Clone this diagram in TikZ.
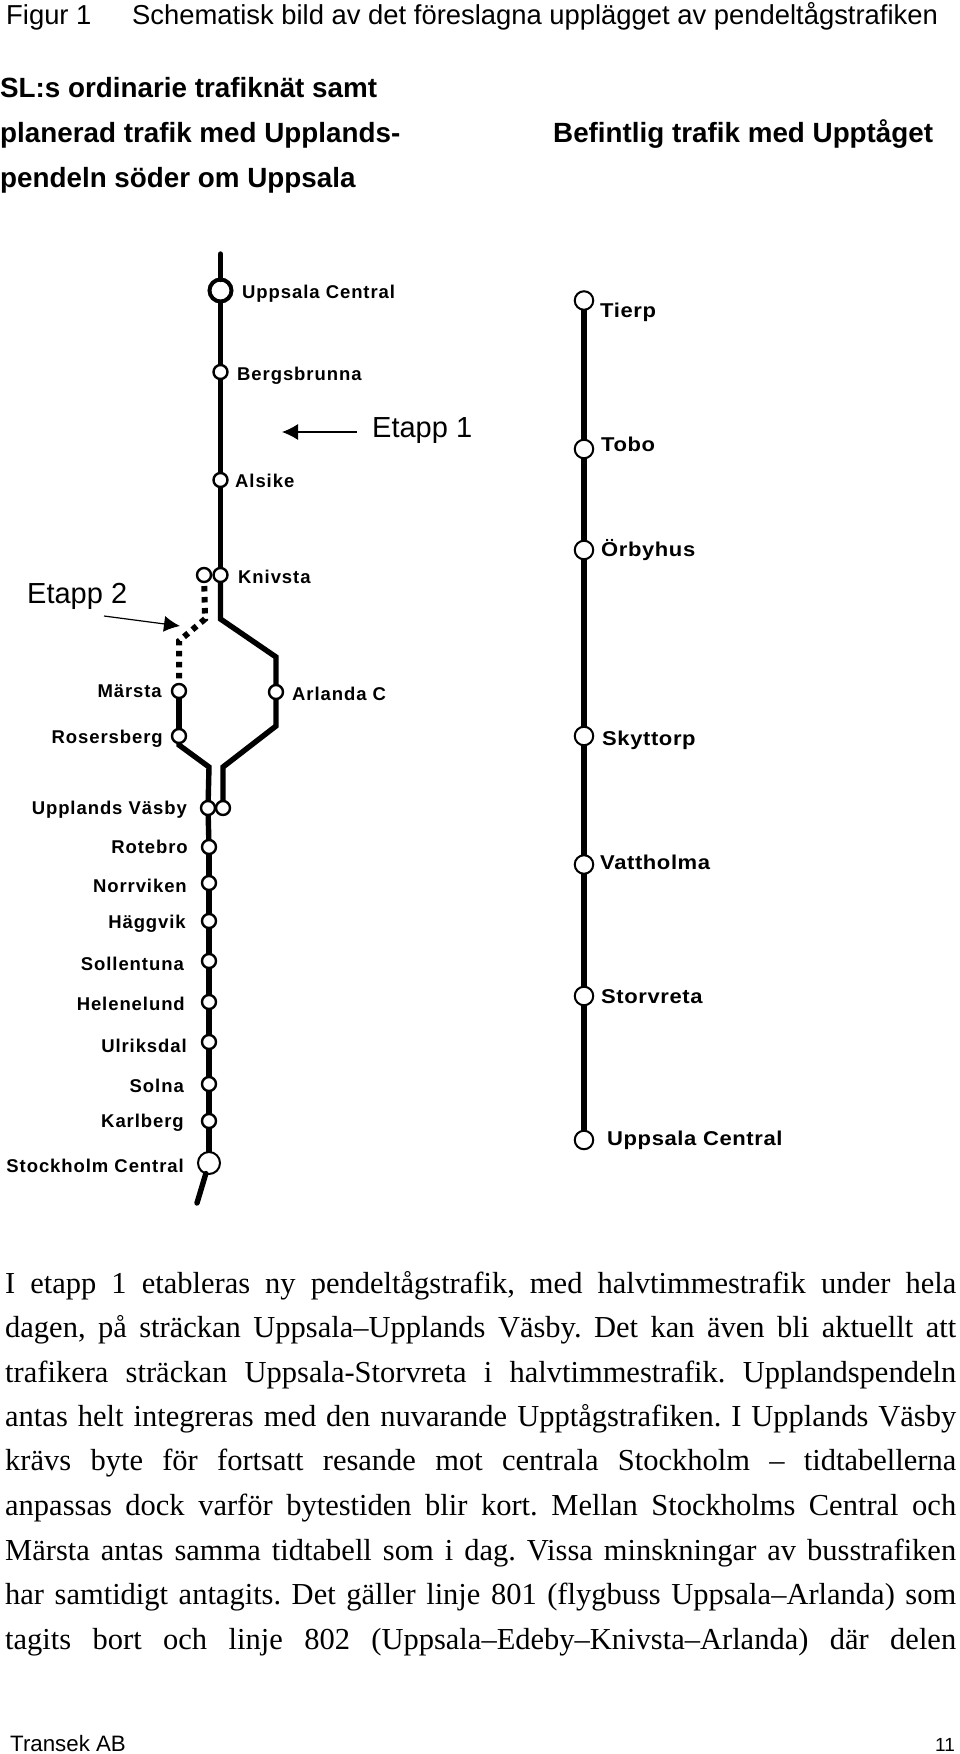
\documentclass[tikz,border=0pt]{standalone}
\usepackage{fontspec}
\usepackage{tikz}
\usetikzlibrary{arrows.meta}

\setmainfont{Liberation Sans}
\newfontfamily\bodyfont{Liberation Serif}
\newfontfamily\leftfont[LetterSpace=5]{Liberation Sans}
\newfontfamily\rightfont[FakeStretch=1.1,LetterSpace=3]{Liberation Sans}
\newcommand{\fitline}[1]{\makebox[951pt][s]{\frenchspacing #1}}

\tikzset{
    station/.style={circle, draw, fill=white, line width=2.4pt, inner sep=0pt, outer sep=0pt, minimum size=14pt},
    bigstation/.style={station, line width=4pt, minimum size=22pt},
    endstation/.style={station, line width=2pt, minimum size=22pt},
    upstation/.style={station, line width=2pt, minimum size=18.5pt},
    track/.style={line width=5.4pt, line join=miter},
    uptrack/.style={line width=6.2pt},
    newtrack/.style={line width=6pt, dash pattern=on 5.5pt off 5.5pt, dash phase=7pt},
    pointer/.style={line width=1.2pt, -{Latex[length=16pt,width=16pt]}},
    leftlabel/.style={inner sep=0pt, anchor=base east, font=\leftfont\bfseries\fontsize{18.5}{20}\selectfont},
    rightlabel/.style={leftlabel, anchor=base west},
    uplabel/.style={inner sep=0pt, anchor=base west, font=\rightfont\bfseries\fontsize{20}{22}\selectfont},
    heading/.style={inner sep=0pt, anchor=base west, font=\bfseries\fontsize{27.8}{30}\selectfont},
    plaintext/.style={inner sep=0pt, anchor=base west, font=\fontsize{27.4}{30}\selectfont},
    bodyline/.style={inner sep=0pt, anchor=base west, font=\bodyfont\fontsize{30.5}{33}\selectfont},
    etapp/.style={inner sep=0pt, anchor=base west, font=\fontsize{29}{32}\selectfont}
}

\begin{document}
\begin{tikzpicture}[x=1pt, y=-1pt]
    \useasboundingbox (0,0) rectangle (960,1754);

    % page title
    \node[plaintext] (figNo) at (6,24) {Figur 1};
    \node[plaintext] (figTitle) at (132,24) {Schematisk bild av det föreslagna upplägget av pendeltågstrafiken};

    % column headings
    \node[heading] (headA) at (0,97.5) {SL:s ordinarie trafiknät samt};
    \node[heading] (headB) at (0,142) {planerad trafik med Upplands-};
    \node[heading] (headC) at (0,187) {pendeln söder om Uppsala};
    \node[heading] (headD) at (553,142) {Befintlig trafik med Upptåget};

    % stations on the main line, north to south
    \node[bigstation] (uppsala) at (220.5,290.5) {};
    \node[station] (bergsbrunna) at (220.5,372) {};
    \node[station] (alsike) at (220.5,480) {};
    \node[station] (knivsta) at (220.5,575) {};
    \node[station] (knivstaNew) at (204,575) {};
    \node[station] (marsta) at (179,691) {};
    \node[station] (rosersberg) at (179,736) {};
    \node[station] (arlanda) at (276,692) {};
    \node[station] (vasby) at (208,808) {};
    \node[station] (vasbyArl) at (223,808) {};
    \node[station] (rotebro) at (209,847) {};
    \node[station] (norrviken) at (209,883) {};
    \node[station] (haggvik) at (209,921) {};
    \node[station] (sollentuna) at (209,961) {};
    \node[station] (helenelund) at (209,1002) {};
    \node[station] (ulriksdal) at (209,1042) {};
    \node[station] (solna) at (209,1084) {};
    \node[station] (karlberg) at (209,1121) {};
    \node[endstation] (stockholm) at (209,1163) {};

    % bends and free ends of the main line
    \coordinate (northEnd) at (220.5,254);
    \coordinate (southEnd) at (197,1203);
    \coordinate (splitA) at (220.5,619);
    \coordinate (splitB) at (276,657);
    \coordinate (joinA) at (276,726);
    \coordinate (joinB) at (223,767);
    \coordinate (joinC) at (179,745);
    \coordinate (joinD) at (209,767);
    \coordinate (dotA) at (205,619);
    \coordinate (dotB) at (179,641);

    % main line
    \draw[track, line cap=round] (northEnd) -- (uppsala);
    \draw[track] (uppsala) -- (bergsbrunna);
    \draw[track] (bergsbrunna) -- (alsike);
    \draw[track] (alsike) -- (knivsta);
    \draw[track] (knivsta) -- (splitA) -- (splitB) -- (arlanda);
    \draw[track] (arlanda) -- (joinA) -- (joinB) -- (vasbyArl);
    \draw[newtrack] (knivstaNew) -- (dotA) -- (dotB) -- (marsta);
    \draw[track] (marsta) -- (rosersberg);
    \draw[track] (rosersberg) -- (joinC) -- (joinD) -- (vasby);
    \draw[track] (vasby) -- (rotebro);
    \draw[track] (rotebro) -- (norrviken);
    \draw[track] (norrviken) -- (haggvik);
    \draw[track] (haggvik) -- (sollentuna);
    \draw[track] (sollentuna) -- (helenelund);
    \draw[track] (helenelund) -- (ulriksdal);
    \draw[track] (ulriksdal) -- (solna);
    \draw[track] (solna) -- (karlberg);
    \draw[track] (karlberg) -- (stockholm);
    \draw[track, line cap=round] (stockholm) -- (southEnd);

    % station names, main line
    \node[rightlabel] (lblUppsala) at (242,298) {Uppsala Central};
    \node[rightlabel] (lblBergsbrunna) at (237,380) {Bergsbrunna};
    \node[rightlabel] (lblAlsike) at (235,487) {Alsike};
    \node[rightlabel] (lblKnivsta) at (238,583) {Knivsta};
    \node[rightlabel] (lblArlanda) at (292,700) {Arlanda C};
    \node[leftlabel] (lblMarsta) at (162,697) {Märsta};
    \node[leftlabel] (lblRosersberg) at (163,743) {Rosersberg};
    \node[leftlabel] (lblVasby) at (187,814) {Upplands Väsby};
    \node[leftlabel] (lblRotebro) at (188,853) {Rotebro};
    \node[leftlabel] (lblNorrviken) at (187,892) {Norrviken};
    \node[leftlabel] (lblHaggvik) at (186,928) {Häggvik};
    \node[leftlabel] (lblSollentuna) at (184,970) {Sollentuna};
    \node[leftlabel] (lblHelenelund) at (185,1010) {Helenelund};
    \node[leftlabel] (lblUlriksdal) at (187,1052) {Ulriksdal};
    \node[leftlabel] (lblSolna) at (184,1092) {Solna};
    \node[leftlabel] (lblKarlberg) at (184,1127) {Karlberg};
    \node[leftlabel] (lblStockholm) at (184,1172) {Stockholm Central};

    % the two stages and their arrows
    \node[etapp] (etappOne) at (372,437) {Etapp 1};
    \node[etapp] (etappTwo) at (27,603) {Etapp 2};
    \coordinate (etappOneFrom) at (357,432);
    \coordinate (etappOneTo) at (282,432);
    \coordinate (etappTwoFrom) at (104,616);
    \coordinate (etappTwoTo) at (180,626);
    \draw[pointer] (etappOneFrom) -- (etappOneTo);
    \draw[pointer] (etappTwoFrom) -- (etappTwoTo);

    % Upptaget line
    \node[upstation] (tierp) at (584,300.5) {};
    \node[upstation] (tobo) at (584,449) {};
    \node[upstation] (orbyhus) at (584,550) {};
    \node[upstation] (skyttorp) at (584,736) {};
    \node[upstation] (vattholma) at (584,864.5) {};
    \node[upstation] (storvreta) at (584,996) {};
    \node[upstation] (uppsalaUp) at (584,1140) {};
    \draw[uptrack] (tierp) -- (tobo);
    \draw[uptrack] (tobo) -- (orbyhus);
    \draw[uptrack] (orbyhus) -- (skyttorp);
    \draw[uptrack] (skyttorp) -- (vattholma);
    \draw[uptrack] (vattholma) -- (storvreta);
    \draw[uptrack] (storvreta) -- (uppsalaUp);

    % station names, Upptaget line
    \node[uplabel] (lblTierp) at (600,317.5) {Tierp};
    \node[uplabel] (lblTobo) at (601,451) {Tobo};
    \node[uplabel] (lblOrbyhus) at (601,556) {Örbyhus};
    \node[uplabel] (lblSkyttorp) at (602,745) {Skyttorp};
    \node[uplabel] (lblVattholma) at (600,869) {Vattholma};
    \node[uplabel] (lblStorvreta) at (601,1003) {Storvreta};
    \node[uplabel] (lblUppsalaUp) at (607,1145) {Uppsala Central};

    % text below the diagram
    \node[bodyline] (lineA) at (5,1293) {\fitline{I etapp 1 etableras ny pendeltågstrafik, med halvtimmestrafik under hela}};
    \node[bodyline] (lineB) at (5,1337.5) {\fitline{dagen, på sträckan Uppsala–Upplands Väsby. Det kan även bli aktuellt att}};
    \node[bodyline] (lineC) at (5,1382) {\fitline{trafikera sträckan Uppsala-Storvreta i halvtimmestrafik. Upplandspendeln}};
    \node[bodyline] (lineD) at (5,1426) {\fitline{antas helt integreras med den nuvarande Upptågstrafiken. I Upplands Väsby}};
    \node[bodyline] (lineE) at (5,1470.5) {\fitline{krävs byte för fortsatt resande mot centrala Stockholm – tidtabellerna}};
    \node[bodyline] (lineF) at (5,1515) {\fitline{anpassas dock varför bytestiden blir kort. Mellan Stockholms Central och}};
    \node[bodyline] (lineG) at (5,1560) {\fitline{Märsta antas samma tidtabell som i dag. Vissa minskningar av busstrafiken}};
    \node[bodyline] (lineH) at (5,1604) {\fitline{har samtidigt antagits. Det gäller linje 801 (flygbuss Uppsala–Arlanda) som}};
    \node[bodyline] (lineI) at (5,1649) {\fitline{tagits bort och linje 802 (Uppsala–Edeby–Knivsta–Arlanda) där delen}};

    % page foot
    \node[plaintext, font=\fontsize{22.3}{24}\selectfont] (footer) at (10,1751) {Transek AB};
    \node[plaintext, font=\fontsize{19}{22}\selectfont] (pageNo) at (935,1751) {11};
\end{tikzpicture}
\end{document}
